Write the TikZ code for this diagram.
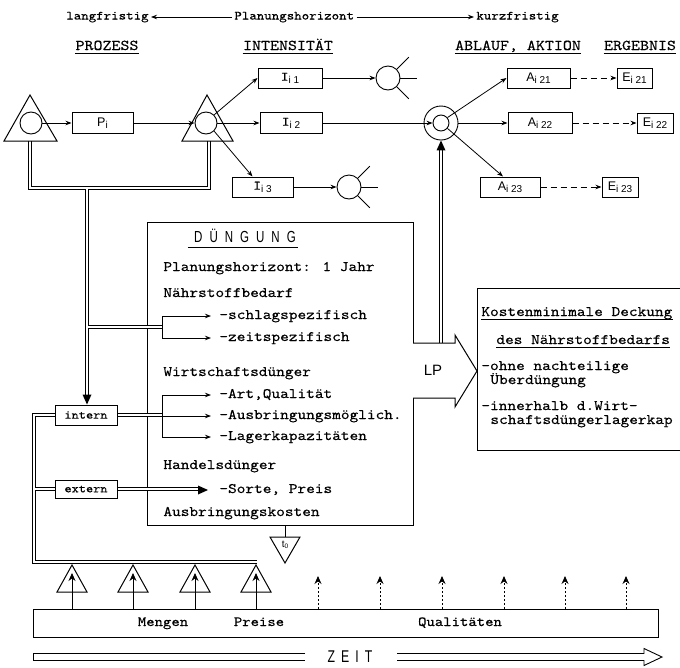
\documentclass[tikz,border=0pt]{standalone}
\usepackage{fontspec}
\setmainfont{Liberation Sans}
\newfontfamily\tw{lmmono10-regular.otf}[FakeBold=0.3,FakeStretch=1.14]
\newfontfamily\na{Liberation Sans}[FakeStretch=0.72]
\usetikzlibrary{arrows.meta}
\newcommand\sub[1]{\raisebox{-2.5pt}{\fontsize{10}{10}\selectfont #1}}
\begin{document}
\begin{tikzpicture}[x=1pt,y=-1pt,line width=0.8pt,
  >={Stealth[length=6pt,width=4.5pt]},
  box/.style={draw,line width=1pt,inner sep=0pt,minimum height=20pt,font=\fontsize{12.5}{13}\selectfont},
  circ/.style={draw,circle,inner sep=0pt,line width=0.9pt},
  txt/.style={font=\tw\fontsize{14.5}{16}\selectfont,inner sep=0pt,anchor=west,text height=8pt,text depth=2pt},
  hdr/.style={font=\tw\fontsize{15}{16}\selectfont,inner sep=0pt,text height=8pt,text depth=2pt},
  toptxt/.style={font=\tw\fontsize{12.5}{14}\selectfont,inner sep=2pt,text height=7pt,text depth=2pt},
  dsh/.style={->,dash pattern=on 6pt off 4pt},
  dbl/.style={double,double distance=2.2pt,line width=0.8pt},
  dotarr/.style={line width=0.9pt,dash pattern=on 2.5pt off 1.5pt,-{Stealth[length=8pt,width=7pt]}},
  uparr/.style={-{Stealth[length=8pt,width=7pt]}}
]
\useasboundingbox (0,0) rectangle (680,667);

% top line
\node[toptxt,anchor=east] (lang) at (151,17) {langfristig};
\node[toptxt,anchor=west] (plan) at (232,17) {Planungshorizont};
\node[toptxt,anchor=west] (kurz) at (474,17) {kurzfristig};
\draw[->] (plan.west) -- (lang.east);
\draw[->] (plan.east) -- (kurz.west);

% headers
\node[hdr] (h1) at (107,47) {PROZESS};
\node[hdr] (h2) at (288,47) {INTENSITÄT};
\node[hdr] (h3) at (518,47) {ABLAUF, AKTION};
\node[hdr] (h4) at (640,47) {ERGEBNIS};
\foreach \h in {h1,h2,h3,h4}
  \draw ([yshift=-3pt]\h.base west) -- ([yshift=-3pt]\h.base east);

% Duengung box
\node[draw,line width=1pt,minimum width=266pt,minimum height=303pt,inner sep=0pt] (dbox) at (280,373.5) {};

% double line network
\draw[dbl] (30,141) -- (30,188) -- (209,188) -- (209,141)
  (87,188) -- (87,397)
  (87,327) -- (162,327)
  (55,415) -- (34,415) -- (34,562) -- (257,562)
  (55,489) -- (34,489)
  (117,415) -- (162,415)
  (117,489) -- (199,489)
  (441,343) -- (441,149);

% triangles with circles
\draw[line width=1pt] (30,95) -- (57,141) -- (4,141) -- cycle;
\draw[line width=1pt] (207,95) -- (233,141) -- (182,141) -- cycle;
\node[circ,minimum size=22pt] (c1) at (31,123) {};
\node[circ,minimum size=22pt] (c2) at (206,123) {};
\node[circ,minimum size=24pt] (k1) at (388,78) {};
\node[circ,minimum size=24pt] (k3) at (349,187) {};
\node[circ,minimum size=34pt] (ring) at (441,123) {};
\node[circ,minimum size=16pt] (rin) at (441,123) {};

% boxes
\node[box,minimum width=61pt,minimum height=21pt] (P) at (102.5,123) {P\sub{i}};
\node[box,minimum width=64pt] (I1) at (290,78) {{\tw\fontsize{13}{13}\selectfont I}\sub{i 1}};
\node[box,minimum width=62pt,minimum height=21pt] (I2) at (291,123) {{\tw\fontsize{13}{13}\selectfont I}\sub{i 2}};
\node[box,minimum width=61pt] (I3) at (262.5,187) {{\tw\fontsize{13}{13}\selectfont I}\sub{i 3}};
\node[box,minimum width=63pt] (A21) at (538.5,78) {A\sub{i 21}};
\node[box,minimum width=64pt,minimum height=21pt] (A22) at (540,123) {A\sub{i 22}};
\node[box,minimum width=60pt] (A23) at (510,187) {A\sub{i 23}};
\node[box,minimum width=35pt] (E21) at (634.5,78) {E\sub{i 21}};
\node[box,minimum width=36pt] (E22) at (655,123) {E\sub{i 22}};
\node[box,minimum width=36pt] (E23) at (620,187) {E\sub{i 23}};

% connectors top
\draw[->] (c1) -- (P);
\draw[->] (P) -- (c2);
\draw[->] (c2.45) -- (I1.west);
\draw[->] (c2) -- (I2);
\draw[->] (c2.-45) -- ([xshift=-10pt]I3.north);
\draw[->] (I1) -- (k1);
\draw[->] (I3) -- (k3);
\draw[->] (I2) -- (rin);
\foreach \k in {k1,k3} {
  \draw (\k.45) -- ++(12,-12);
  \draw (\k.east) -- ++(17,0);
  \draw (\k.-45) -- ++(12,12);
}
\draw[->] (rin.40) -- (A21.west);
\draw[->] (ring) -- (A22);
\draw[->] (rin.-40) -- ([xshift=-7pt]A23.north);
\draw[dsh] (A21) -- (E21);
\draw[dsh] (A22) -- (E22);
\draw[dsh] (A23) -- (E23);
\fill (ring.south) -- ++(-4.5,10) -- ++(9,0) -- cycle;

% Duengung content
\node[font=\na\fontsize{16}{16}\selectfont,inner sep=0pt] (dt) at (245,236)
  {D\hspace{7pt}Ü\hspace{7pt}N\hspace{7pt}G\hspace{7pt}U\hspace{7pt}N\hspace{7pt}G};
\draw ([xshift=-6pt,yshift=-5pt]dt.base west) -- ([xshift=2pt,yshift=-5pt]dt.base east);
\node[txt] (ptitle) at (163,268) {Planungshorizont: 1 Jahr};
\node[txt] (naehr) at (163,294) {Nährstoffbedarf};
\node[txt] (schlag) at (219,316) {-schlagspezifisch};
\node[txt] (zeit) at (219,338) {-zeitspezifisch};
\node[txt] (wirt) at (163,373) {Wirtschaftsdünger};
\node[txt] (art) at (219,395) {-Art,Qualität};
\node[txt] (ausb) at (219,416) {-Ausbringungsmöglich.};
\node[txt] (lager) at (219,437) {-Lagerkapazitäten};
\node[txt] (handel) at (163,466) {Handelsdünger};
\node[txt] (sorte) at (219,490) {-Sorte, Preis};
\node[txt] (ausk) at (163,513) {Ausbringungskosten};

% brackets
\coordinate (nb1) at (162,316);
\coordinate (nb2) at (162,338);
\draw (nb1) -- (nb2);
\draw[->] (nb1) -- ([xshift=-8pt]schlag.west);
\draw[->] (nb2) -- ([xshift=-8pt]zeit.west);
\coordinate (wb1) at (162,395);
\coordinate (wb2) at (162,416);
\coordinate (wb3) at (162,437);
\draw (wb1) -- (wb3);
\draw[->] (wb1) -- ([xshift=-8pt]art.west);
\draw[->] (wb2) -- ([xshift=-8pt]ausb.west);
\draw[->] (wb3) -- ([xshift=-8pt]lager.west);

% intern / extern
\node[box,minimum width=62pt,font=\tw\fontsize{12}{12}\selectfont] (intern) at (86,415) {intern};
\node[box,minimum width=62pt,minimum height=18pt,font=\tw\fontsize{12}{12}\selectfont] (extern) at (86,489) {extern};
\fill (intern.north -| 87,0) -- ++(-4.5,-10) -- ++(9,0) -- cycle;
\fill ([xshift=-11pt]sorte.west) -- ++(-10,-4.5) -- ++(0,9) -- cycle;

% LP arrow
\draw[line width=1pt,fill=white] (413,343) -- (455,343) -- (455,335) -- (477,371) -- (455,407) -- (455,398) -- (413,398);
\node[font=\fontsize{15}{16}\selectfont] (lp) at (433,370) {LP};

% result box
\draw[line width=1pt] (690,288) -- (477,288) -- (477,450) -- (690,450);
\node[txt] (kost) at (481,313) {Kostenminimale Deckung};
\node[txt] (des) at (496,341) {des Nährstoffbedarfs};
\draw ([yshift=-3pt]kost.base west) -- ([yshift=-3pt]kost.base east);
\draw ([yshift=-3pt]des.base west) -- ([yshift=-3pt]des.base east);
\node[txt] (ohne) at (481,367) {-ohne nachteilige};
\node[txt] (ueber) at (490,381) {Überdüngung};
\node[txt] (inner) at (481,407) {-innerhalb d.Wirt-};
\node[txt] (schaft) at (490,421) {schaftsdüngerlagerkap};

% t0 triangle
\draw (285,525) -- (285,537);
\draw[line width=1pt] (270,537) -- (300,537) -- (285,563) -- cycle;
\node[inner sep=0pt,font=\fontsize{10}{10}\selectfont] (t0) at (285,545) {t\raisebox{-1.5pt}{\fontsize{6.5}{6.5}\selectfont 0}};

% bottom bar
\node[draw,line width=1pt,minimum width=625pt,minimum height=28pt,inner sep=0pt] (bar) at (345.5,623) {};
\node[hdr,font=\tw\fontsize{14}{16}\selectfont] (mengen) at (163,623) {Mengen};
\node[hdr,font=\tw\fontsize{14}{16}\selectfont] (preise) at (259,623) {Preise};
\node[hdr,font=\tw\fontsize{14}{16}\selectfont] (qual) at (460,623) {Qualitäten};
\foreach \x in {72,133,195,256} {
  \draw[line width=1pt] (\x,565) -- ({\x+15},592) -- ({\x-15},592) -- cycle;
  \draw[uparr] (\x,609) -- (\x,573);
}
\foreach \x in {318,380,442,504,565,626}
  \draw[dotarr] (\x,609) -- (\x,576);

% ZEIT arrow
\node[font=\na\fontsize{17}{17}\selectfont,inner sep=0pt] (zeitx) at (350,657) {Z\hspace{6pt}E\hspace{6pt}I\hspace{6pt}T};
\draw[line width=0.9pt] (305,653.5) -- (33,653.5) -- (33,660.5) -- (305,660.5);
\draw[line width=0.9pt] (397,653.5) -- (644,653.5) -- (644,648.5) -- (662,657) -- (644,665.5) -- (644,660.5) -- (397,660.5);
\end{tikzpicture}
\end{document}
